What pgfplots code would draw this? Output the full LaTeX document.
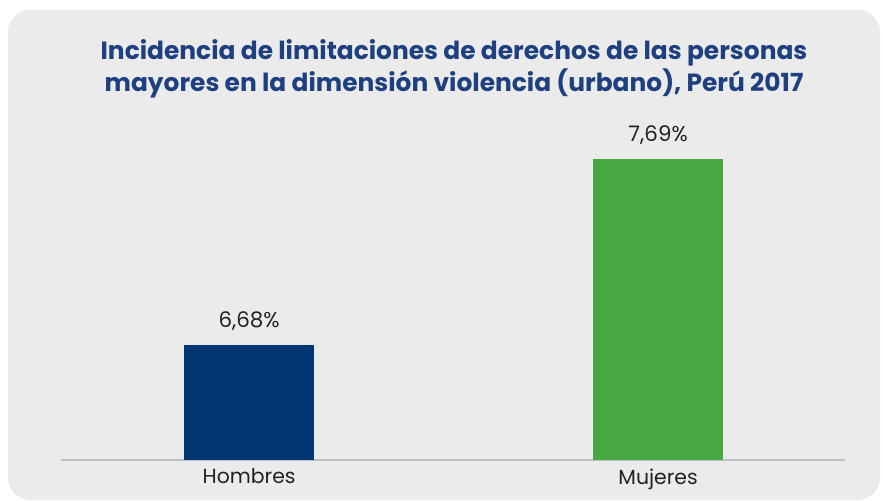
\documentclass[border=0pt]{standalone}
\usepackage{pgfplots}
\pgfplotsset{compat=1.18}
\usepackage{fontspec}
\setmainfont{Poppins}
\definecolor{panel}{HTML}{EAEBEA}
\definecolor{navy}{HTML}{003773}
\definecolor{grn}{HTML}{48A942}
\definecolor{ttl}{HTML}{1E4080}
\definecolor{axgray}{HTML}{BFBFC1}
\definecolor{txt}{HTML}{222222}
\begin{document}
\begin{tikzpicture}[x=1bp,y=1bp]
\useasboundingbox (0,0) rectangle (883,-501);
\fill[panel, rounded corners=22bp] (8,-10) rectangle (880,-500);
\node[align=center, text=ttl, font=\fontsize{25}{32}\selectfont\bfseries] at (454,-69)
  {Incidencia de limitaciones de derechos de las personas\\mayores en la dimensión violencia (urbano), Perú 2017};
\begin{axis}[
  at={(61bp,-460bp)}, anchor=south west,
  scale only axis, width=784bp, height=341bp,
  xmin=-0.46, xmax=1.457,
  ymin=6.057, ymax=7.907,
  axis y line=none,
  axis x line*=bottom,
  axis line style={draw=axgray, line width=1.6bp, -},
  xtick={0,1}, xticklabels={Hombres,Mujeres},
  xtick style={draw=none},
  xticklabel style={font=\fontsize{20.5}{22}\selectfont, text=txt, yshift=-1bp},
  ybar, bar width=130bp, bar shift=0pt,
  nodes near coords={\pgfmathprintnumber[fixed,fixed zerofill,precision=2,use comma,assume math mode=true]{\pgfplotspointmeta}\%},
  every node near coord/.append style={font=\fontsize{21.5}{22}\selectfont, text=txt, anchor=south, yshift=11bp},
]
\addplot[fill=navy, draw=none] coordinates {(0,6.68)};
\addplot[fill=grn, draw=none] coordinates {(1,7.69)};
\end{axis}
\end{tikzpicture}
\end{document}
